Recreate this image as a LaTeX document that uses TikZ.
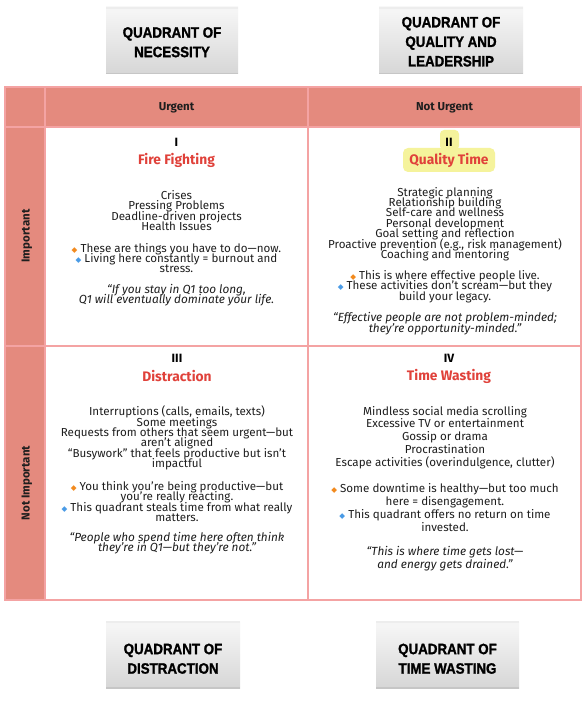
\documentclass[tikz,border=0pt]{standalone}
\usepackage{fontspec}
\setmainfont{Fira Sans}
\newfontfamily\dejavu{DejaVu Sans}
\newfontfamily\boxfont[BoldFeatures={FakeBold=1.5}]{Liberation Sans}
\newcommand\tightlines{\lineskiplimit=-30pt\lineskip=0pt }
\definecolor{hdr}{HTML}{E48A7E}
\definecolor{brd}{HTML}{F4A3A3}
\definecolor{ttl}{HTML}{E0413A}
\definecolor{hl}{HTML}{F5F39C}
\definecolor{bor}{HTML}{F28A1E}
\definecolor{bbl}{HTML}{4A9BE6}
\definecolor{txt}{HTML}{1E1E1E}
\newcommand\obul{{\dejavu\fontsize{7.5}{6}\selectfont\textcolor{bor}{◆}}\ }
\newcommand\bbul{{\dejavu\fontsize{7.5}{6}\selectfont\textcolor{bbl}{◆}}\ }
\newcommand\qtext[1]{\boxfont\bfseries\fontsize{15}{19.5}\selectfont\scalebox{0.89}[1]{\begin{tabular}{@{}c@{}}#1\end{tabular}}}
\tikzset{
  qbox/.style={minimum width=132, minimum height=67, inner sep=0pt,
    top color=gray!6, bottom color=gray!32, draw=none},
  qlab/.style={inner sep=0pt, text=black},
  hdrtxt/.style={font=\bfseries\fontsize{11.5}{12}\selectfont, text=txt},
  numtxt/.style={font=\bfseries\fontsize{12}{12}\selectfont, text=black},
  ttltxt/.style={font=\bfseries\fontsize{13.8}{14}\selectfont, text=ttl},
  body/.style={align=center, text=txt, inner sep=0pt, font=\fontsize{11.6}{10.4}\selectfont\tightlines},
  bodyw/.style={align=center, text=txt, inner sep=0pt, font=\fontsize{11.6}{12.8}\selectfont\tightlines},
  quote/.style={align=center, text=txt, inner sep=0pt, font=\itshape\fontsize{11.8}{10.5}\selectfont\tightlines},
  quotew/.style={align=center, text=txt, inner sep=0pt, font=\itshape\fontsize{11.8}{13}\selectfont\tightlines},
}
\begin{document}
\begin{tikzpicture}[x=1pt,y=-1pt]
\useasboundingbox[fill=white] (0,0) rectangle (586,703);
% quadrant label boxes
\node[qbox] (bNec) at (172,40.5) {};
\node[qbox, minimum width=144] (bQual) at (451,40.5) {};
\node[qbox, minimum width=134] (bDis) at (173,655) {};
\node[qbox, minimum width=143] (bWas) at (447.5,655) {};
\foreach \b in {bNec,bQual,bDis,bWas}{
  \fill[gray!14] (\b.north west) rectangle ([yshift=-2pt]\b.north east);
  \fill[white!92!gray] ([yshift=-2pt]\b.north west) rectangle ([yshift=-6pt]\b.north east);
  \fill[gray!45] ([yshift=1.5pt]\b.south west) rectangle (\b.south east);
}
\node[qlab] (tNec) at ([yshift=-3pt]bNec.center) {\qtext{QUADRANT OF\\NECESSITY}};
\node[qlab] (tQual) at ([yshift=-2.5pt]bQual.center) {\qtext{QUADRANT OF\\QUALITY AND\\LEADERSHIP}};
\node[qlab] (tDis) at ([yshift=-5pt]bDis.center) {\qtext{QUADRANT OF\\DISTRACTION}};
\node[qlab] (tWas) at ([yshift=-5pt]bWas.center) {\qtext{QUADRANT OF\\TIME WASTING}};
% table
\fill[hdr] (5,87) rectangle (581,127);
\fill[hdr] (5,127) rectangle (45,600);
\draw[brd, line width=1.3] (5,87) rectangle (581,600);
\draw[brd, line width=1.3] (45,87) -- (45,600);
\draw[brd, line width=1.3] (308,87) -- (308,600);
\draw[brd, line width=1.3] (5,127) -- (581,127);
\draw[brd, line width=1.3] (5,346) -- (581,346);
\node[hdrtxt] (hU) at (176.5,107.5) {Urgent};
\node[hdrtxt] (hNU) at (444.5,107.5) {Not Urgent};
\node[hdrtxt, rotate=90] (hI) at (27,236) {Important};
\node[hdrtxt, rotate=90] (hNI) at (27,483) {Not Important};
% Q1
\node[numtxt] (n1) at (176.5,142) {I};
\node[ttltxt] (t1) at (176.5,160) {Fire Fighting};
\node[body] (i1) at (176.5,210.5) {Crises\\Pressing Problems\\Deadline-driven projects\\Health Issues};
\node[body] (b1) at (176.5,258) {\obul These are things you have to do—now.\\\bbul Living here constantly = burnout and\\stress.};
\node[quote] (q1) at (176.5,295) {“If you stay in Q1 too long,\\Q1 will eventually dominate your life.};
% Q2
\fill[hl, rounded corners=4pt] (440,130) rectangle (459,150);
\fill[hl, rounded corners=5pt] (403,148) rectangle (495,172);
\node[numtxt] (n2) at (449,142) {II};
\node[ttltxt] (t2) at (449,160) {Quality Time};
\node[body] (i2) at (445,224) {Strategic planning\\Relationship building\\Self-care and wellness\\Personal development\\Goal setting and reflection\\Proactive prevention (e.g., risk management)\\Coaching and mentoring};
\node[body] (b2) at (445,286.5) {\obul This is where effective people live.\\\bbul These activities don’t scream—but they\\build your legacy.};
\node[quote] (q2) at (445,323.5) {“Effective people are not problem-minded;\\they’re opportunity-minded.”};
% Q3
\node[numtxt] (n3) at (177,358) {III};
\node[ttltxt] (t3) at (177,376) {Distraction};
\node[body] (i3) at (177,438) {Interruptions (calls, emails, texts)\\Some meetings\\Requests from others that seem urgent—but\\aren’t aligned\\“Busywork” that feels productive but isn’t\\impactful};
\node[body] (b3) at (177,501.5) {\obul You think you're being productive—but\\you're really reacting.\\\bbul This quadrant steals time from what really\\matters.};
\node[quote] (q3) at (177,543) {“People who spend time here often think\\they’re in Q1—but they’re not.”};
% Q4
\node[numtxt] (n4) at (449,358) {IV};
\node[ttltxt] (t4) at (449,376) {Time Wasting};
\node[bodyw] (i4) at (445,437.5) {Mindless social media scrolling\\Excessive TV or entertainment\\Gossip or drama\\Procrastination\\Escape activities (overindulgence, clutter)};
\node[bodyw] (b4) at (445,507.5) {\obul Some downtime is healthy—but too much\\here = disengagement.\\\bbul This quadrant offers no return on time\\invested.};
\node[quotew] (q4) at (445,558.5) {“This is where time gets lost—\\and energy gets drained.”};
\end{tikzpicture}
\end{document}
